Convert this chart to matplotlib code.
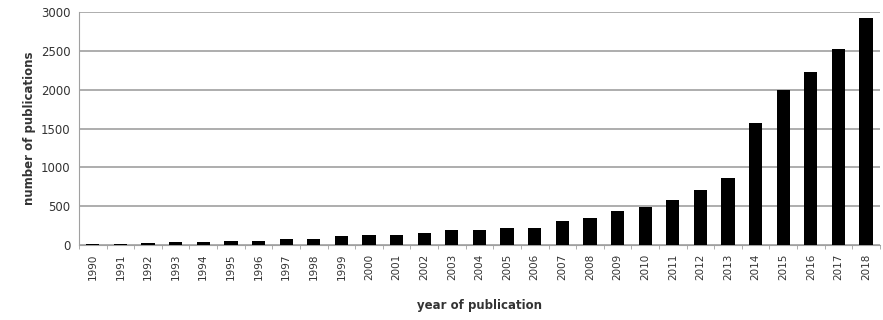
import numpy as np
import matplotlib.pyplot as plt

years = list(range(1990, 2019))
counts = [15, 20, 30, 45, 45, 50, 55, 75, 75, 115, 135, 130, 150, 200, 200, 220, 220, 310,
          355, 435, 495, 580, 710, 860, 1570, 1990, 2225, 2520, 2925]

fig = plt.figure(figsize=(8.83, 3.2), dpi=100)
ax = fig.add_axes([0.0895, 0.234, 0.907, 0.7285])

x = np.arange(len(years))
ax.bar(x, counts, width=0.48, color='black', zorder=3)

ax.set_xlim(-0.5, len(years) - 0.5)
ax.set_ylim(0, 3000)
ax.set_yticks(range(0, 3001, 500))
ax.yaxis.grid(True, color='#a0a0a0', linewidth=1.2, zorder=0)
ax.tick_params(axis='y', length=0, labelsize=8.5, colors='#333333', pad=6)

ax.set_xticks(x)
ax.set_xticklabels([str(y) for y in years], rotation=90, fontsize=7.5)
ax.set_xticks(np.arange(-0.5, len(years)), minor=True)
ax.tick_params(axis='x', which='major', length=0, pad=6, colors='#333333')
ax.tick_params(axis='x', which='minor', length=3, color='#a0a0a0')

for s in ['top', 'right']:
    ax.spines[s].set_visible(False)
ax.spines['left'].set_color('#a0a0a0')
ax.spines['bottom'].set_color('#a0a0a0')

ax.set_ylabel('number of publications', fontsize=8.5, fontweight='bold', color='#333333')
ax.set_xlabel('year of publication', fontsize=8.5, fontweight='bold', color='#333333', labelpad=14)

plt.savefig('out.png', dpi=100)
